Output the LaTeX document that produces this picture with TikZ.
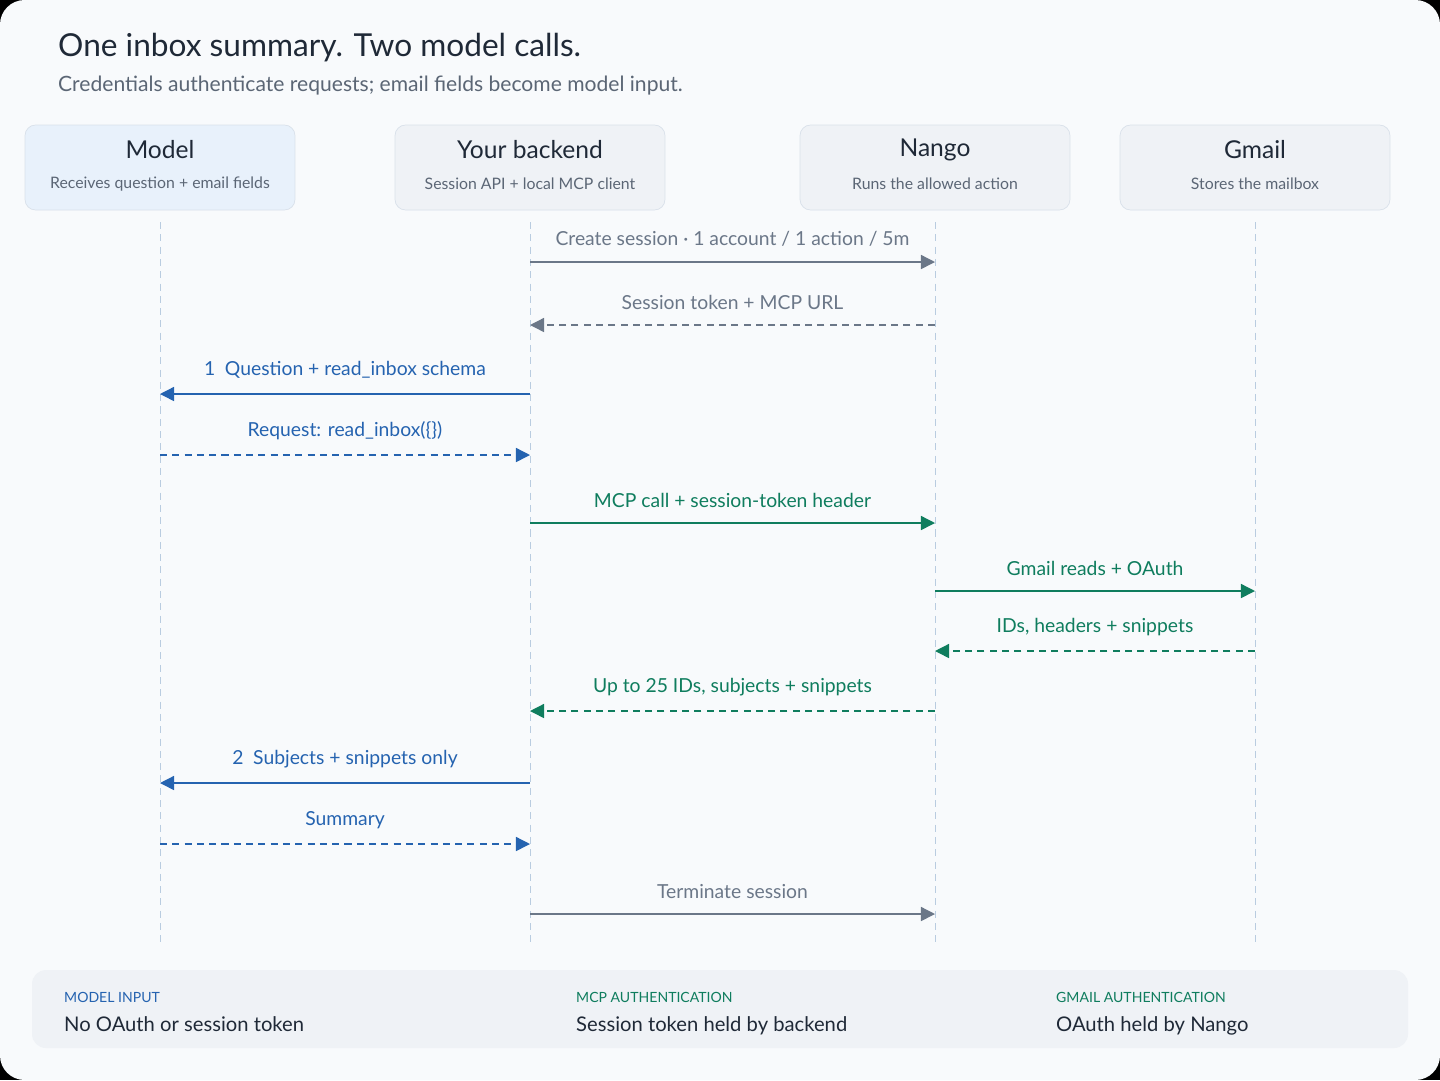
\documentclass[tikz,border=0pt]{standalone}
\usepackage{fontspec}
\setmainfont{Lato}
\usetikzlibrary{positioning}
\usetikzlibrary{arrows.meta}
\definecolor{bgpage}{HTML}{F8FAFC}
\definecolor{boxgray}{HTML}{EFF2F6}
\definecolor{boxblue}{HTML}{E8F1FB}
\definecolor{boxline}{HTML}{D9E1EA}
\definecolor{lifeline}{HTML}{B9CCE0}
\definecolor{msggray}{HTML}{6B7788}
\definecolor{msgblue}{HTML}{2563B0}
\definecolor{msggreen}{HTML}{0F7D5E}
\definecolor{inktext}{HTML}{1F2937}
\definecolor{subtext}{HTML}{5B6675}
\tikzset{
  actor/.style={rounded corners=6pt, draw=boxline, fill=boxgray, minimum width=5.4cm, minimum height=1.7cm},
  msg/.style={thick, -{Triangle[length=8pt,width=8pt]}},
  reply/.style={msg, dashed, dash pattern=on 4pt off 3pt},
  lbl/.style={midway, above=5pt, font=\fontsize{11}{13}\selectfont},
}
\begin{document}
\begin{tikzpicture}[x=0.02cm, y=-0.02cm]
				\fill[black] (0,0) rectangle (1440,1080);
				\fill[bgpage, rounded corners=14pt] (0,0) rectangle (1440,1080);
				\useasboundingbox (0,0) rectangle (1440,1080);

				\node[anchor=base west, inktext, font=\fontsize{18}{22}\selectfont] (title) at (52,56) {One inbox summary. Two model calls.};
				\node[anchor=base west, subtext, font=\fontsize{12}{14}\selectfont] (subtitle) at (52,91) {Credentials authenticate requests; email fields become model input.};

				\node[actor, fill=boxblue] (A) at (160,167.5) {};
				\node[actor] (B) at (530,167.5) {};
				\node[actor] (C) at (935,167.5) {};
				\node[actor] (D) at (1255,167.5) {};
				\node[inktext, font=\fontsize{14}{16}\selectfont] at (160,150) {Model};
				\node[subtext, font=\fontsize{9}{11}\selectfont] at (160,184) {Receives question + email fields};
				\node[inktext, font=\fontsize{14}{16}\selectfont] at (530,150) {Your backend};
				\node[subtext, font=\fontsize{9}{11}\selectfont] at (530,184) {Session API + local MCP client};
				\node[inktext, font=\fontsize{14}{16}\selectfont] at (935,150) {Nango};
				\node[subtext, font=\fontsize{9}{11}\selectfont] at (935,184) {Runs the allowed action};
				\node[inktext, font=\fontsize{14}{16}\selectfont] at (1255,150) {Gmail};
				\node[subtext, font=\fontsize{9}{11}\selectfont] at (1255,184) {Stores the mailbox};

				% lifelines
				\coordinate (A0) at (160,222); \coordinate (A1) at (160,945);
				\coordinate (B0) at (530,222); \coordinate (B1) at (530,945);
				\coordinate (C0) at (935,222); \coordinate (C1) at (935,945);
				\coordinate (D0) at (1255,222); \coordinate (D1) at (1255,945);
				\draw[lifeline, dashed, dash pattern=on 4pt off 3pt] (A0) -- (A1);
				\draw[lifeline, dashed, dash pattern=on 4pt off 3pt] (B0) -- (B1);
				\draw[lifeline, dashed, dash pattern=on 4pt off 3pt] (C0) -- (C1);
				\draw[lifeline, dashed, dash pattern=on 4pt off 3pt] (D0) -- (D1);

				% messages
				\coordinate (b1) at (530,262); \coordinate (c1) at (935,262);
				\coordinate (c2) at (935,325); \coordinate (b2) at (530,325);
				\coordinate (b3) at (530,394); \coordinate (a3) at (160,394);
				\coordinate (a4) at (160,455); \coordinate (b4) at (530,455);
				\coordinate (b5) at (530,523); \coordinate (c5) at (935,523);
				\coordinate (c6) at (935,591); \coordinate (d6) at (1255,591);
				\coordinate (d7) at (1255,651); \coordinate (c7) at (935,651);
				\coordinate (c8) at (935,711); \coordinate (b8) at (530,711);
				\coordinate (b9) at (530,783); \coordinate (a9) at (160,783);
				\coordinate (a10) at (160,844); \coordinate (b10) at (530,844);
				\coordinate (b11) at (530,914); \coordinate (c11) at (935,914);

				\draw[msg, msggray] (b1) -- (c1) node[lbl] {Create session · 1 account / 1 action / 5m};
				\draw[reply, msggray] (c2) -- (b2) node[lbl] {Session token + MCP URL};
				\draw[msg, msgblue] (b3) -- (a3) node[lbl] {1\enspace Question + read\_inbox schema};
				\draw[reply, msgblue] (a4) -- (b4) node[lbl] {Request: read\_inbox(\{\})};
				\draw[msg, msggreen] (b5) -- (c5) node[lbl] {MCP call + session-token header};
				\draw[msg, msggreen] (c6) -- (d6) node[lbl] {Gmail reads + OAuth};
				\draw[reply, msggreen] (d7) -- (c7) node[lbl] {IDs, headers + snippets};
				\draw[reply, msggreen] (c8) -- (b8) node[lbl] {Up to 25 IDs, subjects + snippets};
				\draw[msg, msgblue] (b9) -- (a9) node[lbl] {2\enspace Subjects + snippets only};
				\draw[reply, msgblue] (a10) -- (b10) node[lbl] {Summary};
				\draw[msg, msggray] (b11) -- (c11) node[lbl] {Terminate session};

				% legend
				\fill[boxgray, rounded corners=8pt] (32,970) rectangle (1408,1048);
				\node[anchor=base west, msgblue, font=\fontsize{8}{10}\selectfont] (k1) at (58,1002) {MODEL INPUT};
				\node[anchor=base west, inktext, font=\fontsize{11.5}{14}\selectfont] (v1) at (58,1031) {No OAuth or session token};
				\node[anchor=base west, msggreen, font=\fontsize{8}{10}\selectfont] (k2) at (570,1002) {MCP AUTHENTICATION};
				\node[anchor=base west, inktext, font=\fontsize{11.5}{14}\selectfont] (v2) at (570,1031) {Session token held by backend};
				\node[anchor=base west, msggreen, font=\fontsize{8}{10}\selectfont] (k3) at (1050,1002) {GMAIL AUTHENTICATION};
				\node[anchor=base west, inktext, font=\fontsize{11.5}{14}\selectfont] (v3) at (1050,1031) {OAuth held by Nango};
			\end{tikzpicture}
\end{document}
